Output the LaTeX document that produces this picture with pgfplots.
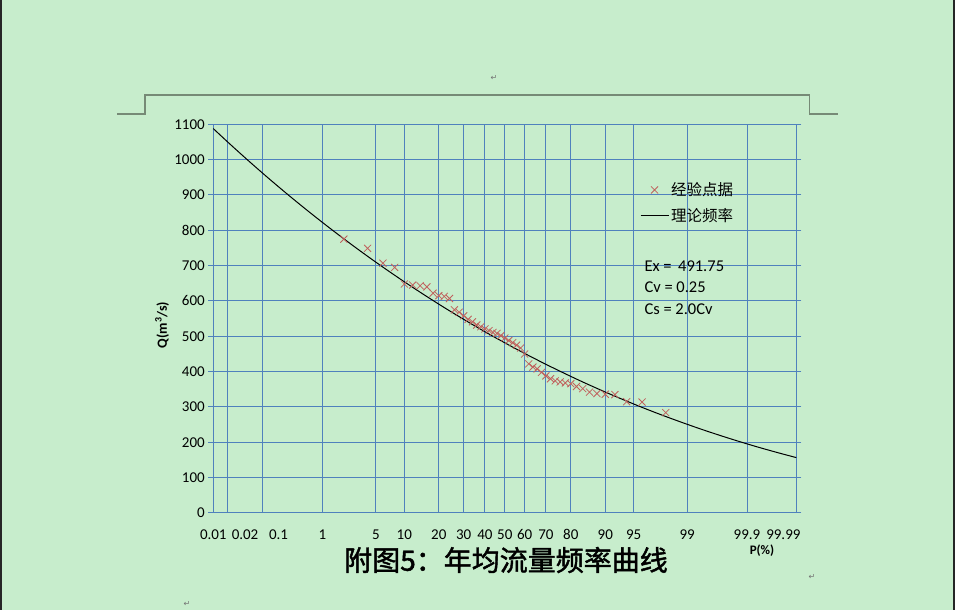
\documentclass[border=0pt]{standalone}
\usepackage{pgfplots}
\pgfplotsset{compat=1.18}
\usepackage{fontspec}
\setmainfont{Carlito}
\newfontfamily\cjk[AutoFakeBold=1.6]{Noto Sans CJK SC}
\newfontfamily\symb{DejaVu Sans}
\definecolor{bg}{RGB}{199,237,204}
\definecolor{gridblue}{RGB}{79,129,189}
\definecolor{crossred}{RGB}{192,96,92}
\definecolor{hdr}{RGB}{118,138,118}

\pgfplotsset{
  crosslegend/.style={legend image code/.code={\draw[mark repeat=2,mark phase=2,##1] plot coordinates {(0pt,0pt)(14pt,0pt)(28pt,0pt)};}},
  linelegend/.style={legend image code/.code={\draw[##1] (0pt,0pt) -- (28pt,0pt);}},
}

\pgfplotstableread{
x y
-2.0537 775
-1.7507 749
-1.5548 707
-1.4051 695
-1.2816 648
-1.1750 645
-1.0803 643
-0.9945 640
-0.9154 622
-0.8416 615
-0.7722 613
-0.7063 607
-0.6433 575
-0.5828 568
-0.5244 558
-0.4677 548
-0.4125 541
-0.3585 532
-0.3055 527
-0.2533 521
-0.2019 516
-0.1510 511
-0.1004 508
-0.0502 502
0.0000 495
0.0502 488
0.1004 482
0.1510 475
0.2019 467
0.2533 450
0.3055 422
0.3585 413
0.4125 408
0.4677 398
0.5244 388
0.5828 380
0.6433 374
0.7063 371
0.7722 368
0.8416 366
0.9154 358
0.9945 352
1.0803 342
1.1750 338
1.2816 336
1.4051 335
1.5548 315
1.7507 314
2.0537 284
}\empirical

\pgfplotstableread{
x y
-3.719 1087.8
-3.50 1042.7
-3.25 992.8
-3.00 944.5
-2.75 897.8
-2.50 852.7
-2.25 809.1
-2.00 767.0
-1.75 726.4
-1.50 687.3
-1.25 649.6
-1.00 613.3
-0.75 578.3
-0.50 544.8
-0.25 512.5
0.00 481.6
0.25 451.9
0.50 423.5
0.75 396.3
1.00 370.2
1.25 345.4
1.50 321.7
1.75 299.0
2.00 277.5
2.25 257.1
2.50 237.6
2.75 219.2
3.00 201.7
3.25 185.2
3.50 169.7
3.719 156.8
}\theory

\begin{document}
\begin{tikzpicture}[x=1pt,y=1pt]
\fill[bg] (0,0) rectangle (955,610);
\useasboundingbox (0,0) rectangle (955,610);
\fill[black!85] (0,0) rectangle (2,610);
\fill[black!85] (953,0) rectangle (955,610);
\draw[hdr, line width=1.2pt] (117,496) -- (145,496) -- (145,515) -- (809.5,515) -- (809.5,496) -- (838,496);
\node[text=black!55, font=\symb\fontsize{8}{9}\selectfont] at (494,532) {↵};
\node[text=black!55, font=\symb\fontsize{8}{9}\selectfont] at (812,33) {↵};
\node[text=black!55, font=\symb\fontsize{8}{9}\selectfont] at (187,6) {↵};

\begin{axis}[
  at={(213.3pt,97pt)}, anchor=south west,
  scale only axis, width=583pt, height=388.7pt,
  xmin=-3.719, xmax=3.719, ymin=0, ymax=1100,
  /pgf/number format/assume math mode=true,
  /pgf/number format/1000 sep={},
  axis line style={gridblue, line width=1pt},
  grid style={gridblue, line width=1pt},
  major grid style={gridblue, line width=1pt},
  ymajorgrids,
  ytick={0,100,...,1100},
  yticklabel style={font=\fontsize{15}{18}\selectfont, text=black},
  y tick style={gridblue, line width=1pt},
  tick align=outside,
  major tick length=5pt,
  x tick style={draw=none},
  xmajorgrids=false,
  xtick={-3.719,-3.314,-2.887,-2.326,-1.645,-1.2816,-0.8416,-0.5244,-0.2533,0,0.2533,0.5244,0.8416,1.2816,1.645,2.326,3.090,3.554},
  xticklabels={0.01,0.02,0.1,1,5,10,20,30,40,50,60,70,80,90,95,99,99.9,99.99},
  xticklabel style={font=\fontsize{15}{18}\selectfont, text=black, anchor=base, inner sep=0pt, yshift=-22pt},
  extra x ticks={-3.719,-3.540,-3.090,-2.326,-1.645,-1.2816,-0.8416,-0.5244,-0.2533,0,0.2533,0.5244,0.8416,1.2816,1.645,2.326,3.090,3.719},
  extra x tick labels={,,,,,,,,,,,,,,,,,},
  extra x tick style={grid=major, major tick length=0pt},
  legend style={draw=none, fill=none, at={(rel axis cs:0.732,0.855)}, anchor=north west,
     inner sep=0pt, outer sep=0pt, row sep=7pt,
     font=\cjk\fontsize{15.5}{18}\selectfont},
  legend cell align=left,
  clip=false,
]
\addplot[only marks, mark=x, mark size=5pt, color=crossred, mark options={line width=0.8pt}, crosslegend]
  table[x=x,y=y] {\empirical};
\addlegendentry{经验点据}
\addplot[black, line width=1pt, smooth, no marks, linelegend]
  table[x=x,y=y] {\theory};
\addlegendentry{理论频率}
\node[rotate=90, font=\bfseries\fontsize{14}{16}\selectfont] at (rel axis cs:-0.088,0.484) {Q(m\textsuperscript{3}/s)};
\end{axis}

\node[anchor=west, font=\fontsize{16.5}{19}\selectfont] at (641,344) {Ex =\, 491.75};
\node[anchor=west, font=\fontsize{16.5}{19}\selectfont] at (641,323) {Cv = 0.25};
\node[anchor=west, font=\fontsize{16.5}{19}\selectfont] at (641,301) {Cs = 2.0Cv};
\node[font=\cjk\bfseries\fontsize{28}{32}\selectfont] at (506,50) {附图5：年均流量频率曲线};
\node[font=\bfseries\fontsize{13}{15}\selectfont] at (762,59) {P(\%)};
\end{tikzpicture}
\end{document}
